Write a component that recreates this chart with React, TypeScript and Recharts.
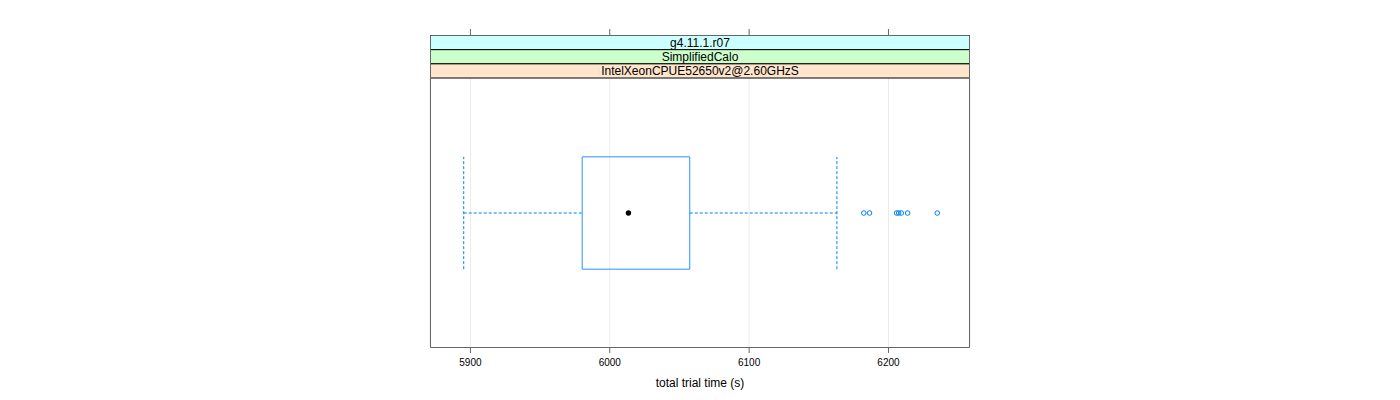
import React from 'react';
import {
  ComposedChart,
  XAxis,
  YAxis,
  CartesianGrid,
  Scatter,
  ReferenceArea,
  ReferenceLine,
} from 'recharts';

// ---- data ----
const stripLabels = ['g4.11.1.r07', 'SimplifiedCalo', 'IntelXeonCPUE52650v2@2.60GHzS'];
const stripColors = ['#ccffff', '#ccffcc', '#ffe5cc'];
const xTicks = [5900, 6000, 6100, 6200];
const xDomain = [5871, 6258.5];
// lower whisker, Q1, median, Q3, upper whisker
const boxStats = [5895.2, 5980.2, 6013.4, 6057.4, 6163.0];
const outliers = [6182.3, 6186.4, 6205.8, 6207.3, 6209.2, 6213.7, 6235.0];
const axisTitle = 'total trial time (s)';

const FONT = '"Liberation Sans", Arial, Helvetica, sans-serif';
const BLUE = '#0080ff';
const GROUP_Y = 0.5;
const HALF_H = 0.208;

const medianData = [{ x: boxStats[2], y: GROUP_Y }];
const outlierData = outliers.map((v) => ({ x: v, y: GROUP_Y }));

const AxisTick = (props: any) => {
  const { x, y, payload } = props;
  return (
    <g>
      <line x1={x} x2={x} y1={29} y2={35} stroke="#666" />
      <text
        x={x}
        y={y}
        dy={11}
        textAnchor="middle"
        fontSize={10}
        fill="#000"
        fontFamily={FONT}
      >
        {payload.value}
      </text>
    </g>
  );
};

const MedianDot = (props: any) => (
  <circle cx={props.cx} cy={props.cy} r={2.7} fill="#000" stroke="none" />
);

const OutlierDot = (props: any) => (
  <circle cx={props.cx} cy={props.cy} r={2.3} fill="none" stroke={BLUE} strokeWidth={1} />
);

export default function App() {
  const left = 430.5;
  const width = 539;
  const stripTop = 35.5;
  const stripH = 14.17;
  const panelBottom = 347.5;
  return (
    <div style={{ position: 'absolute', left: 0, top: 0, width: 1400, height: 400, background: '#fff' }}>
      <ComposedChart
        width={1400}
        height={400}
        margin={{ top: 78, right: 430, bottom: 22, left: 430 }}
      >
        <CartesianGrid horizontal={false} stroke="#ebebeb" />
        <XAxis
          xAxisId={0}
          dataKey="x"
          type="number"
          domain={xDomain}
          ticks={xTicks}
          interval={0}
          allowDataOverflow
          height={30}
          tickSize={5}
          axisLine={false}
          tickLine={{ stroke: '#666' }}
          tick={<AxisTick />}
        />
        <YAxis yAxisId={0} dataKey="y" type="number" domain={[0, 1]} hide />
        <ReferenceLine
          segment={[{ x: boxStats[0], y: GROUP_Y }, { x: boxStats[1], y: GROUP_Y }]}
          stroke={BLUE}
          strokeDasharray="3 2"
        />
        <ReferenceLine
          segment={[{ x: boxStats[3], y: GROUP_Y }, { x: boxStats[4], y: GROUP_Y }]}
          stroke={BLUE}
          strokeDasharray="3 2"
        />
        <ReferenceLine
          segment={[{ x: boxStats[0], y: GROUP_Y - HALF_H }, { x: boxStats[0], y: GROUP_Y + HALF_H }]}
          stroke={BLUE}
          strokeDasharray="3 2"
        />
        <ReferenceLine
          segment={[{ x: boxStats[4], y: GROUP_Y - HALF_H }, { x: boxStats[4], y: GROUP_Y + HALF_H }]}
          stroke={BLUE}
          strokeDasharray="3 2"
        />
        <ReferenceArea
          x1={boxStats[1]}
          x2={boxStats[3]}
          y1={GROUP_Y - HALF_H}
          y2={GROUP_Y + HALF_H}
          fill="none"
          fillOpacity={0}
          stroke={BLUE}
          strokeOpacity={0.85}
        />
        <Scatter data={medianData} shape={<MedianDot />} isAnimationActive={false} />
        <Scatter data={outlierData} shape={<OutlierDot />} isAnimationActive={false} />
      </ComposedChart>
      <svg
        width={1400}
        height={400}
        style={{ position: 'absolute', left: 0, top: 0, pointerEvents: 'none' }}
      >
        {stripLabels.map((label, i) => (
          <g key={label}>
            <rect
              x={left}
              y={stripTop + i * stripH}
              width={width}
              height={stripH}
              fill={stripColors[i]}
              stroke="#000"
              strokeWidth={1}
            />
            <text
              x={left + width / 2}
              y={stripTop + i * stripH + stripH / 2}
              dominantBaseline="central"
              textAnchor="middle"
              fontSize={12}
              fontFamily={FONT}
              fill="#000"
            >
              {label}
            </text>
          </g>
        ))}
        <line x1={left} x2={left} y1={stripTop} y2={panelBottom} stroke="#666" />
        <line x1={left + width} x2={left + width} y1={stripTop} y2={panelBottom} stroke="#666" />
        <line x1={left} x2={left + width} y1={stripTop} y2={stripTop} stroke="#666" />
        <line x1={left} x2={left + width} y1={panelBottom} y2={panelBottom} stroke="#666" />
        <text
          x={700}
          y={387}
          textAnchor="middle"
          fontSize={12}
          fontFamily={FONT}
          fill="#000"
        >
          {axisTitle}
        </text>
      </svg>
    </div>
  );
}
